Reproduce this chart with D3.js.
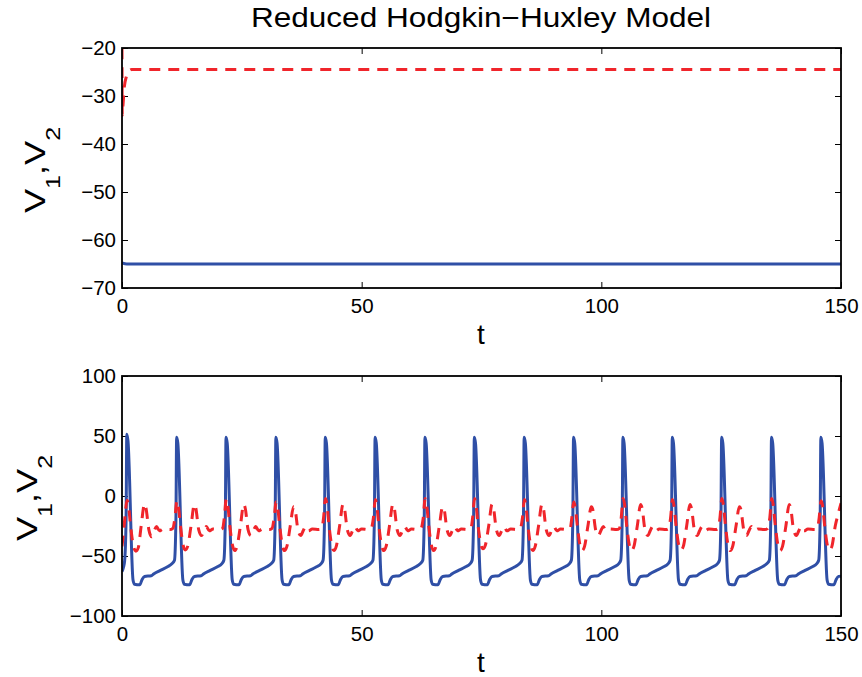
<!DOCTYPE html>
<html>
<head>
<meta charset="utf-8">
<title>Reduced Hodgkin-Huxley Model</title>
<style>
  body { margin: 0; background: #fff; }
  svg { display: block; font-family: "Liberation Sans", Arial, Helvetica, sans-serif; }
</style>
<script src="https://cdnjs.cloudflare.com/ajax/libs/d3/7.8.5/d3.min.js"></script>
</head>
<body>
<div id="chart"></div>
<script>
// axis ticks
const tTicks = [0, 50, 100, 150];
const topTicks = [-70, -60, -50, -40, -30, -20];
const bottomTicks = [-100, -50, 0, 50, 100];

// top panel: [t, V]
const v1Top = [[0, -64.8], [1, -65], [150, -65]];
const v2Top = [[0, -20], [0.05, -34], [0.2, -32], [0.5, -28], [0.9, -26], [1.3, -25], [2, -24.5], [150, -24.5]];

// bottom panel, V1 (solid blue), one spike cycle per line
const v1Bottom = [
  [0, -63], [0.3, -59.5], [0.55, -54], [0.85, -20], [1.0, 51.5], [1.25, 46], [2.3, -70], [2.6, -73.5], [3.7, -74], [4.2, -69.5], [4.7, -67], [6.1, -66.5], [6.6, -65], [8.0, -62], [9.5, -59], [10.4, -56.5], [10.95, -53.5],
  [11.25, -20], [11.4, 49], [11.65, 44], [12.7, -70], [13.0, -73.5], [14.1, -74], [14.6, -69.5], [15.1, -67], [16.5, -66.5], [17.0, -65], [18.4, -62], [19.9, -59], [20.8, -56.5], [21.25, -53.5],
  [21.55, -20], [21.7, 49], [21.95, 44], [23.0, -70], [23.3, -73.5], [24.4, -74], [24.9, -69.5], [25.4, -67], [26.8, -66.5], [27.3, -65], [28.7, -62], [30.2, -59], [31.1, -56.5], [31.65, -53.5],
  [31.95, -20], [32.1, 49], [32.35, 44], [33.4, -70], [33.7, -73.5], [34.8, -74], [35.3, -69.5], [35.8, -67], [37.2, -66.5], [37.7, -65], [39.1, -62], [40.6, -59], [41.5, -56.5], [41.95, -53.5],
  [42.25, -20], [42.4, 49], [42.65, 44], [43.7, -70], [44.0, -73.5], [45.1, -74], [45.6, -69.5], [46.1, -67], [47.5, -66.5], [48.0, -65], [49.4, -62], [50.9, -59], [51.8, -56.5], [52.35, -53.5],
  [52.65, -20], [52.8, 49], [53.05, 44], [54.1, -70], [54.4, -73.5], [55.5, -74], [56.0, -69.5], [56.5, -67], [57.9, -66.5], [58.4, -65], [59.8, -62], [61.3, -59], [62.2, -56.5], [62.75, -53.5],
  [63.05, -20], [63.2, 49], [63.45, 44], [64.5, -70], [64.8, -73.5], [65.9, -74], [66.4, -69.5], [66.9, -67], [68.3, -66.5], [68.8, -65], [70.2, -62], [71.7, -59], [72.6, -56.5], [73.05, -53.5],
  [73.35, -20], [73.5, 49], [73.75, 44], [74.8, -70], [75.1, -73.5], [76.2, -74], [76.7, -69.5], [77.2, -67], [78.6, -66.5], [79.1, -65], [80.5, -62], [82.0, -59], [82.9, -56.5], [83.45, -53.5],
  [83.75, -20], [83.9, 49], [84.15, 44], [85.2, -70], [85.5, -73.5], [86.6, -74], [87.1, -69.5], [87.6, -67], [89.0, -66.5], [89.5, -65], [90.9, -62], [92.4, -59], [93.3, -56.5], [93.75, -53.5],
  [94.05, -20], [94.2, 49], [94.45, 44], [95.5, -70], [95.8, -73.5], [96.9, -74], [97.4, -69.5], [97.9, -67], [99.3, -66.5], [99.8, -65], [101.2, -62], [102.7, -59], [103.6, -56.5], [104.05, -53.5],
  [104.35, -20], [104.5, 49], [104.75, 44], [105.8, -70], [106.1, -73.5], [107.2, -74], [107.7, -69.5], [108.2, -67], [109.6, -66.5], [110.1, -65], [111.5, -62], [113.0, -59], [113.9, -56.5], [114.35, -53.5],
  [114.65, -20], [114.8, 49], [115.05, 44], [116.1, -70], [116.4, -73.5], [117.5, -74], [118.0, -69.5], [118.5, -67], [119.9, -66.5], [120.4, -65], [121.8, -62], [123.3, -59], [124.2, -56.5], [124.65, -53.5],
  [124.95, -20], [125.1, 49], [125.35, 44], [126.4, -70], [126.7, -73.5], [127.8, -74], [128.3, -69.5], [128.8, -67], [130.2, -66.5], [130.7, -65], [132.1, -62], [133.6, -59], [134.5, -56.5], [135.05, -53.5],
  [135.35, -20], [135.5, 49], [135.75, 44], [136.8, -70], [137.1, -73.5], [138.2, -74], [138.7, -69.5], [139.2, -67], [140.6, -66.5], [141.1, -65], [142.5, -62], [144.0, -59], [144.9, -56.5], [145.35, -53.5],
  [145.65, -20], [145.8, 49], [146.05, 44], [147.1, -70], [147.4, -73.5], [148.5, -74], [149.0, -69.5], [149.5, -67], [150, -66.8]
];

// bottom panel, V2 (dashed red)
const v2Bottom = [
  [0, -42], [0.3, -31], [0.65, -16], [1.05, -3.5], [1.35, -8], [1.8, -25], [2.3, -40], [2.9, -46], [3.4, -43], [4.0, -25], [4.7, -6.5], [5.0, -10], [5.6, -28], [6.2, -34], [6.7, -29], [7.2, -25.5], [7.8, -29], [8.6, -27.5], [10.0, -28], [10.6, -27], [11.05, -18],
  [11.45, -4], [11.75, -8], [12.2, -25], [12.7, -40], [13.2, -45], [13.7, -42], [14.4, -25], [15.1, -7], [15.4, -10], [16.0, -28], [16.6, -33], [17.1, -29], [17.6, -25.5], [18.2, -29], [19.0, -27.5], [20.4, -28], [21.0, -27], [21.35, -18],
  [21.75, -2.5], [22.05, -7], [22.5, -25], [23.0, -40], [23.5, -45.5], [24.0, -42], [24.7, -25], [25.4, -7], [25.7, -10], [26.3, -28], [26.9, -33], [27.4, -29], [27.9, -25.5], [28.5, -29], [29.3, -27.5], [30.7, -28], [31.3, -27], [31.75, -18],
  [32.15, -5], [32.45, -9], [32.9, -25], [33.4, -40], [33.9, -45.5], [34.4, -42], [35.1, -25], [35.8, -9], [36.1, -11], [36.7, -28], [37.3, -33], [37.8, -29], [38.3, -25.5], [38.9, -29], [39.7, -27.5], [41.1, -28], [41.7, -27], [42.05, -18],
  [42.45, -2], [42.75, -7], [43.2, -25], [43.7, -40], [44.2, -45.5], [44.7, -42], [45.4, -25], [46.1, -7], [46.4, -10], [47.0, -28], [47.6, -33], [48.1, -29], [48.6, -25.5], [49.2, -29], [50.0, -27.5], [51.4, -28], [52.0, -27], [52.45, -18],
  [52.85, -3], [53.15, -8], [53.6, -25], [54.1, -40], [54.6, -45.5], [55.1, -42], [55.8, -25], [56.5, -7], [56.8, -10], [57.4, -28], [58.0, -33], [58.5, -29], [59.0, -25.5], [59.6, -29], [60.4, -27.5], [61.8, -28], [62.4, -27], [62.85, -18],
  [63.25, -2], [63.55, -7], [64.0, -25], [64.5, -40], [65.0, -45.5], [65.5, -42], [66.2, -25], [66.9, -9], [67.2, -11], [67.8, -28], [68.4, -33], [68.9, -29], [69.4, -25.5], [70.0, -29], [70.8, -27.5], [72.2, -28], [72.8, -27], [73.15, -18],
  [73.55, -2], [73.85, -7], [74.3, -25], [74.8, -39], [75.3, -44], [75.8, -41], [76.5, -25], [77.2, -7], [77.5, -10], [78.1, -28], [78.7, -33], [79.2, -29], [79.7, -25.5], [80.3, -29], [81.1, -27.5], [82.5, -28], [83.1, -27], [83.55, -18],
  [83.95, -3], [84.25, -8], [84.7, -25], [85.2, -40], [85.7, -45.5], [86.2, -42], [86.9, -25], [87.6, -7], [87.9, -10], [88.5, -28], [89.1, -33], [89.6, -29], [90.1, -25.5], [90.7, -29], [91.5, -27.5], [92.9, -28], [93.5, -27], [93.85, -18],
  [94.25, -5], [94.55, -9], [95.0, -25], [95.5, -40], [96.0, -45.5], [96.5, -42], [97.2, -25], [97.9, -9], [98.2, -11], [98.8, -28], [99.4, -33], [99.9, -29], [100.4, -25.5], [101.0, -29], [101.8, -27.5], [103.2, -28], [103.8, -27], [104.15, -18],
  [104.55, -2], [104.85, -7], [105.3, -25], [105.8, -40], [106.3, -45.5], [106.8, -42], [107.5, -25], [108.2, -7], [108.5, -10], [109.1, -28], [109.7, -33], [110.2, -29], [110.7, -25.5], [111.3, -29], [112.1, -27.5], [113.5, -28], [114.1, -27], [114.45, -18],
  [114.85, -3], [115.15, -8], [115.6, -25], [116.1, -40], [116.6, -45], [117.1, -42], [117.8, -25], [118.5, -7], [118.8, -10], [119.4, -28], [120.0, -33], [120.5, -29], [121.0, -25.5], [121.6, -29], [122.4, -27.5], [123.8, -28], [124.4, -27], [124.75, -18],
  [125.15, -2], [125.45, -7], [125.9, -25], [126.4, -40], [126.9, -45.5], [127.4, -42], [128.1, -25], [128.8, -9], [129.1, -11], [129.7, -28], [130.3, -33], [130.8, -29], [131.3, -25.5], [131.9, -29], [132.7, -27.5], [134.1, -28], [134.7, -27], [135.15, -18],
  [135.55, -2], [135.85, -7], [136.3, -25], [136.8, -40], [137.3, -45.5], [137.8, -42], [138.5, -25], [139.2, -7], [139.5, -10], [140.1, -28], [140.7, -33], [141.2, -29], [141.7, -25.5], [142.3, -29], [143.1, -27.5], [144.5, -28], [145.1, -27], [145.45, -18],
  [145.85, -4], [146.15, -8], [146.6, -25], [147.1, -40], [147.6, -45], [148.1, -42], [148.8, -25], [149.6, -12], [150, -6]
];

const W = 862, H = 677;
const blue = '#2f4fa6', red = '#f0252b';

const svg = d3.select('#chart').append('svg')
  .attr('width', W)
  .attr('height', H);

const x = d3.scaleLinear().domain([0, 150]).range([122, 841]);

svg.append('text')
  .attr('x', 481)
  .attr('y', 27)
  .attr('text-anchor', 'middle')
  .attr('font-size', 27)
  .attr('textLength', 460)
  .attr('lengthAdjust', 'spacingAndGlyphs')
  .text('Reduced Hodgkin\u2212Huxley Model');

function drawPanel(name, yTop, yBottom, yDomain, yTicks, v1, v2, labelX) {
  const y = d3.scaleLinear().domain(yDomain).range([yBottom, yTop]);
  const g = svg.append('g');

  svg.append('clipPath').attr('id', 'clip-' + name)
    .append('rect')
      .attr('x', x.range()[0])
      .attr('y', yTop - 2)
      .attr('width', x.range()[1] - x.range()[0])
      .attr('height', yBottom - yTop + 4);

  // ticks pointing inward on all four sides
  const bottomAxis = g.append('g')
    .attr('transform', `translate(0,${yBottom})`)
    .call(d3.axisBottom(x).tickValues(tTicks).tickSize(-6).tickPadding(10).tickFormat(d3.format('d')));
  g.append('g')
    .attr('transform', `translate(0,${yTop})`)
    .call(d3.axisTop(x).tickValues(tTicks).tickSize(-6).tickFormat(''));
  g.append('g')
    .attr('transform', `translate(${x.range()[0]},0)`)
    .call(d3.axisLeft(y).tickValues(yTicks).tickSize(-6).tickPadding(6));
  g.append('g')
    .attr('transform', `translate(${x.range()[1]},0)`)
    .call(d3.axisRight(y).tickValues(yTicks).tickSize(-6).tickFormat(''));

  g.selectAll('.domain').remove();
  g.selectAll('.tick line').attr('stroke', '#000').attr('stroke-width', 1);
  g.selectAll('.tick text').attr('font-size', 20.5).attr('fill', '#000')
    .attr('font-family', '"Liberation Sans", Arial, sans-serif');
  bottomAxis.selectAll('.tick text').attr('dy', '0.72em');

  const line = d3.line()
    .x(d => x(d[0]))
    .y(d => y(d[1]))
    .curve(d3.curveMonotoneX);

  const plot = g.append('g').attr('clip-path', `url(#clip-${name})`);
  plot.append('path')
    .datum(v1)
    .attr('d', line)
    .attr('fill', 'none')
    .attr('stroke', blue)
    .attr('stroke-width', 3)
    .attr('stroke-linejoin', 'round');
  plot.append('path')
    .datum(v2)
    .attr('d', line)
    .attr('fill', 'none')
    .attr('stroke', red)
    .attr('stroke-width', 3)
    .attr('stroke-dasharray', '11,8');

  // frame
  g.append('rect')
    .attr('x', x.range()[0])
    .attr('y', yTop)
    .attr('width', x.range()[1] - x.range()[0])
    .attr('height', yBottom - yTop)
    .attr('fill', 'none')
    .attr('stroke', '#000')
    .attr('stroke-width', 1.8);

  // x label
  g.append('text')
    .attr('x', 481)
    .attr('y', yBottom + 56)
    .attr('text-anchor', 'middle')
    .attr('font-size', 28)
    .text('t');

  // y label V1, V2 with subscripts
  const midY = (yTop + yBottom) / 2 + 2;
  const lab = g.append('text')
    .attr('transform', `translate(${labelX},${midY}) rotate(-90) scale(1.25,1)`)
    .attr('text-anchor', 'middle')
    .attr('font-size', 29);
  lab.append('tspan').text('V');
  lab.append('tspan').attr('font-size', 20).attr('dy', 15).text('1');
  lab.append('tspan').attr('dy', -15).text(',');
  lab.append('tspan').text('V');
  lab.append('tspan').attr('font-size', 20).attr('dy', 15).text('2');
}

drawPanel('top', 48, 288, [-70, -20], topTicks, v1Top, v2Top, 45);
drawPanel('bottom', 376, 616, [-100, 100], bottomTicks, v1Bottom, v2Bottom, 37);
</script>
</body>
</html>
